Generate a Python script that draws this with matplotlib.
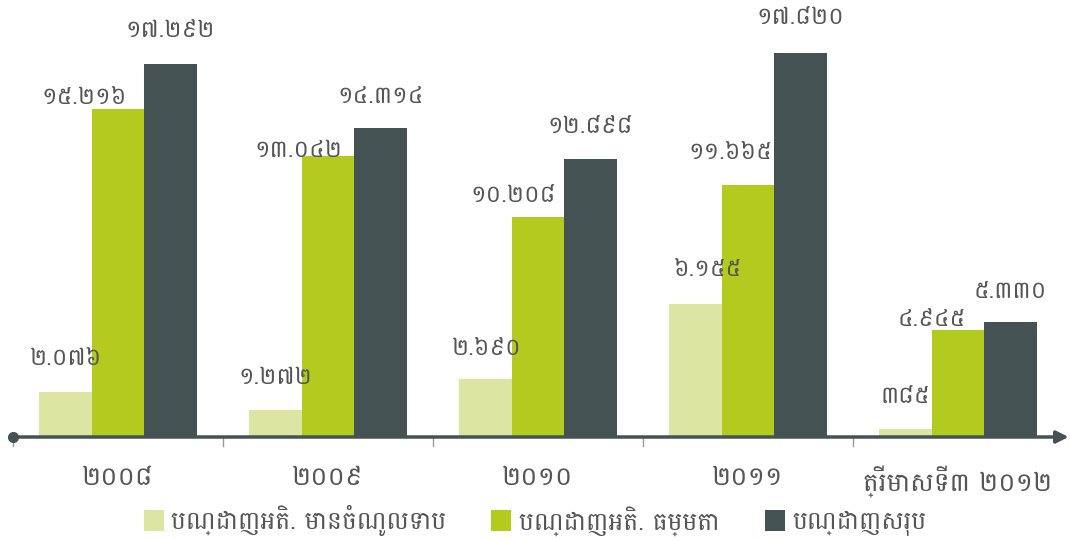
import matplotlib
matplotlib.use("Agg")
import matplotlib.pyplot as plt
import numpy as np

plt.rcParams['font.family'] = ['Battambang', 'DejaVu Sans']

# ឆ្នាំ
years = ["២០០៨", "២០០៩", "២០១០", "២០១១", "ត្រីមាសទី៣ ២០១២"]
series_names = ["បណ្ដាញអតិ. មានចំណូលទាប", "បណ្ដាញអតិ. ធម្មតា", "បណ្ដាញសរុប"]
low_income = [2.076, 1.272, 2.690, 6.155, 0.385]
normal = [15.216, 13.042, 10.208, 11.665, 4.945]
total = [17.292, 14.314, 12.898, 17.820, 5.330]
label_low = ["២.០៧៦", "១.២៧២", "២.៦៩០", "៦.១៥៥", "៣៨៥"]
label_normal = ["១៥.២១៦", "១៣.០៤២", "១០.២០៨", "១១.៦៦៥", "៤.៩៤៥"]
label_total = ["១៧.២៩២", "១៤.៣១៤", "១២.៨៩៨", "១៧.៨២០", "៥.៣៣០"]

colors = ["#dce5a1", "#b3cb1e", "#445253"]
text_col = "#555555"

fig = plt.figure(figsize=(10.7, 5.4), dpi=100)
ax = fig.add_axes([13 / 1070, 103 / 540, 1050 / 1070, 400 / 540])

x = np.arange(len(years))
w = 0.25
data = [low_income, normal, total]
labels = [label_low, label_normal, label_total]
# label nudges (points): green labels shifted left so they don't collide
dx = [[0, 0, 0, 8, 0],
      [-24, -21, -18, -13, -19],
      [0, 0, 0, 0, 0]]
dy = [[24, 23, 22, 25, 23],
      [8, 4, 15, 24, 8],
      [24, 23, 23, 25, 22]]

for i in range(3):
    ax.bar(x + (i - 1) * w, data[i], w, color=colors[i], label=series_names[i], zorder=2)
    for j in range(len(years)):
        ax.annotate(labels[i][j], (x[j] + (i - 1) * w, data[i][j]),
                    xytext=(dx[i][j], dy[i][j]), textcoords="offset points",
                    ha="center", va="center", fontsize=17, color=text_col,
                    annotation_clip=False)

ax.set_xlim(-0.5, 4.5)
ax.set_ylim(0, 400 / 21.57)
for s in ax.spines.values():
    s.set_visible(False)
ax.set_yticks([])
ax.set_xticks(x)
ax.set_xticklabels(years, fontsize=19, color=text_col)
ax.tick_params(axis="x", length=0, pad=20)

# axis line with dot and arrow
ax.annotate("", xy=(4.54, 0), xytext=(-0.5, 0),
            arrowprops=dict(arrowstyle="-|>", color=colors[2], lw=2.5, mutation_scale=18),
            annotation_clip=False, zorder=3)
ax.plot([-0.5], [0], "o", color=colors[2], ms=7, clip_on=False, zorder=4)
for b in np.arange(-0.5, 4.0, 1.0):
    ax.plot([b, b], [0, -0.4], color="#999999", lw=1, clip_on=False)

leg = fig.legend(loc="lower center", bbox_to_anchor=(0.5, -0.035), ncol=3, frameon=False,
                 fontsize=18, handlelength=0.8, handleheight=0.9, handletextpad=0.3,
                 columnspacing=1.8)
for t in leg.get_texts():
    t.set_color(text_col)

fig.savefig("out.png")
